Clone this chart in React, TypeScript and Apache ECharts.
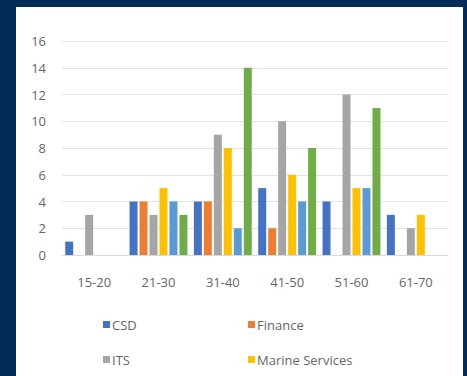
import React, { useEffect, useRef } from "react";
import * as echarts from "echarts";

const categories = ["15-20", "21-30", "31-40", "41-50", "51-60", "61-70"];
const seriesNames = ["CSD", "Finance", "ITS", "Marine Services", "Other A", "Other B"];
const csd = [1, 4, 4, 5, 4, 3];
const finance = [0, 4, 4, 2, 0, 0];
const its = [3, 3, 9, 10, 12, 2];
const marine = [0, 5, 8, 6, 5, 3];
const otherA = [0, 4, 2, 4, 5, 0];
const otherB = [0, 3, 14, 8, 11, 0];
const colors = ["#4472C4", "#ED7D31", "#A5A5A5", "#FFC000", "#5B9BD5", "#70AD47"];
const yTicks = { min: 0, max: 16, interval: 2 };

export default function App() {
  const ref = useRef<HTMLDivElement>(null);
  useEffect(() => {
    if (!ref.current) return;
    const chart = echarts.init(ref.current, null, { renderer: "svg" });
    const values = [csd, finance, its, marine, otherA, otherB];
    const font = "Open Sans";
    const textColor = "#666666";
    chart.setOption({
      animation: false,
      backgroundColor: "#032c58",
      textStyle: { fontFamily: font },
      graphic: [
        { type: "rect", z: -10, shape: { x: 16, y: 7, width: 447, height: 380 }, style: { fill: "#ffffff" } },
      ],
      grid: { left: 62, right: 19, top: 41, bottom: 121 },
      xAxis: {
        type: "category",
        data: categories,
        axisLine: { show: true, lineStyle: { color: "#d9d9d9" } },
        axisTick: { show: false },
        axisLabel: { color: textColor, fontSize: 13, margin: 20, fontFamily: font },
      },
      yAxis: {
        type: "value",
        min: yTicks.min,
        max: yTicks.max,
        interval: yTicks.interval,
        axisLine: { show: false },
        axisTick: { show: false },
        splitLine: { lineStyle: { color: "#e3e3e3" } },
        axisLabel: { color: textColor, fontSize: 13, margin: 16, fontFamily: font },
      },
      legend: [
        {
          data: [seriesNames[0], seriesNames[2]],
          orient: "vertical",
          left: 98,
          top: 313,
          itemWidth: 7,
          itemHeight: 7,
          itemGap: 22,
          icon: "rect",
          textStyle: { color: textColor, fontSize: 13, fontFamily: font, padding: [0, 0, 0, -3] },
        },
        {
          data: [seriesNames[1], seriesNames[3]],
          orient: "vertical",
          left: 243,
          top: 313,
          itemWidth: 7,
          itemHeight: 7,
          itemGap: 22,
          icon: "rect",
          textStyle: { color: textColor, fontSize: 13, fontFamily: font, padding: [0, 0, 0, -3] },
        },
      ],
      series: values.map((d, i) => ({
        name: seriesNames[i],
        type: "bar",
        data: d,
        itemStyle: { color: colors[i] },
        barCategoryGap: "10%",
        barGap: "25%",
      })),
    });
    return () => chart.dispose();
  }, []);
  return (
    <div
      ref={ref}
      style={{ position: "fixed", left: 0, top: 0, width: 467, height: 376 }}
    />
  );
}
